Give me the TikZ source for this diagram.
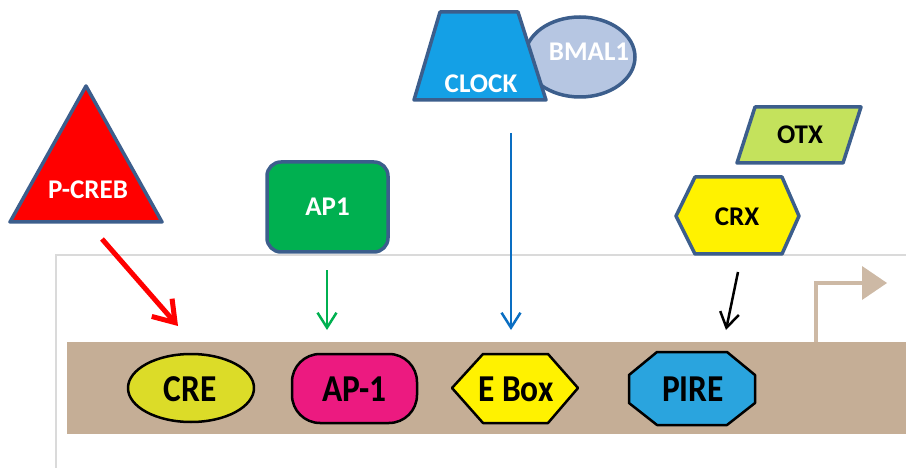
\documentclass[tikz,border=0pt]{standalone}
\usepackage{fontspec}
\setmainfont{Carlito}
\usetikzlibrary{arrows.meta}
\definecolor{bordc}{HTML}{3C5E8C}
\definecolor{framec}{HTML}{DADADA}
\definecolor{bandc}{HTML}{C5AE96}
\definecolor{bentc}{HTML}{CDB9A5}
\definecolor{apgreen}{HTML}{00B050}
\definecolor{clockc}{HTML}{14A0E6}
\definecolor{bmalc}{HTML}{B6C6E2}
\definecolor{otxc}{HTML}{C4E25C}
\definecolor{crec}{HTML}{DCDC28}
\definecolor{apmag}{HTML}{EC1A80}
\definecolor{pirec}{HTML}{2AA4DE}
\definecolor{bluearr}{HTML}{0A6EC2}
\tikzset{
  topshape/.style={draw=bordc, line width=3.5pt, line join=round},
  botshape/.style={draw=black, line width=2.5pt, line join=round},
  wlab/.style={text=white, font=\fontsize{27}{27}\selectfont\bfseries, inner sep=0pt},
  klab/.style={text=black, font=\fontsize{27}{27}\selectfont\bfseries, inner sep=0pt},
  blab/.style={text=black, font=\fontsize{38}{38}\selectfont\bfseries, inner sep=0pt, xscale=0.88},
  thickarr/.style={line width=5pt, -{Straight Barb[length=20pt,width=27pt]}},
  thinarr/.style={line width=2.5pt, -{Straight Barb[length=15pt,width=19pt]}},
}
\begin{document}
\begin{tikzpicture}[x=1pt,y=-1pt]
\useasboundingbox (0,0) rectangle (906,468);
% frame and band
\draw[framec, line width=1.2pt] (56,468) -- (56,255) -- (906,255);
\fill[bandc] (67,342) rectangle (906,434);
% bent arrow (transcription start)
\coordinate (tss) at (816,342);
\coordinate (tssc) at (816,283);
\coordinate (tssend) at (866,283);
\draw[bentc, line width=4pt] (tss) -- (tssc) -- (tssend);
\fill[bentc] (862,266) -- (887,283) -- (862,300) -- cycle;
% P-CREB
\draw[topshape, fill=red] (86,86) -- (162,222) -- (10,222) -- cycle;
\node[wlab] (pcreb) at (88,190) {P-CREB};
% AP1
\draw[topshape, fill=apgreen, rounded corners=14pt] (267,162) rectangle (388,252);
\node[wlab] (ap1) at (327.5,207) {AP1};
% BMAL1 and CLOCK
\draw[topshape, fill=bmalc] (580,57) ellipse [x radius=55, y radius=40];
\node[wlab] (bmal) at (589,52) {BMAL1};
\draw[topshape, fill=clockc] (440,12) -- (518,12) -- (546,100) -- (414,100) -- cycle;
\node[wlab] (clock) at (481,84) {CLOCK};
% OTX
\draw[topshape, fill=otxc] (755,107) -- (861,107) -- (843,163) -- (737,163) -- cycle;
\node[klab] (otx) at (800,135) {OTX};
% CRX
\draw[topshape, fill=yellow] (676,216) -- (695,177) -- (782,177) -- (799,216) -- (782,254) -- (695,254) -- cycle;
\node[klab] (crx) at (737,217) {CRX};
% bottom elements
\draw[botshape, fill=crec] (191,388) ellipse [x radius=63, y radius=34];
\node[blab] (cre) at (190,389) {CRE};
\draw[botshape, fill=apmag, rounded corners=28pt] (292,354) rectangle (417,423);
\node[blab] (ap1b) at (354.5,389) {AP-1};
\draw[botshape, fill=yellow] (452,388) -- (483,354) -- (548,354) -- (578,388) -- (548,423) -- (483,423) -- cycle;
\node[blab] (ebox) at (516,389) {E Box};
\draw[botshape, fill=pirec] (629,375) -- (657,352) -- (727,352) -- (755,375) -- (755,403) -- (727,425) -- (657,425) -- (629,403) -- cycle;
\node[blab] (pire) at (693,389) {PIRE};
% arrow ends
\coordinate (rs) at (102,239);
\coordinate (re) at (178,326);
\coordinate (gs) at (327,270);
\coordinate (ge) at (327,330);
\coordinate (bs) at (511,133);
\coordinate (be) at (511,330);
\coordinate (ks) at (738,272);
\coordinate (ke) at (726,330);
% arrows
\draw[thickarr, red] (rs) -- (re);
\draw[thinarr, apgreen] (gs) -- (ge);
\draw[thinarr, bluearr] (bs) -- (be);
\draw[thinarr, black] (ks) -- (ke);
\end{tikzpicture}
\end{document}
